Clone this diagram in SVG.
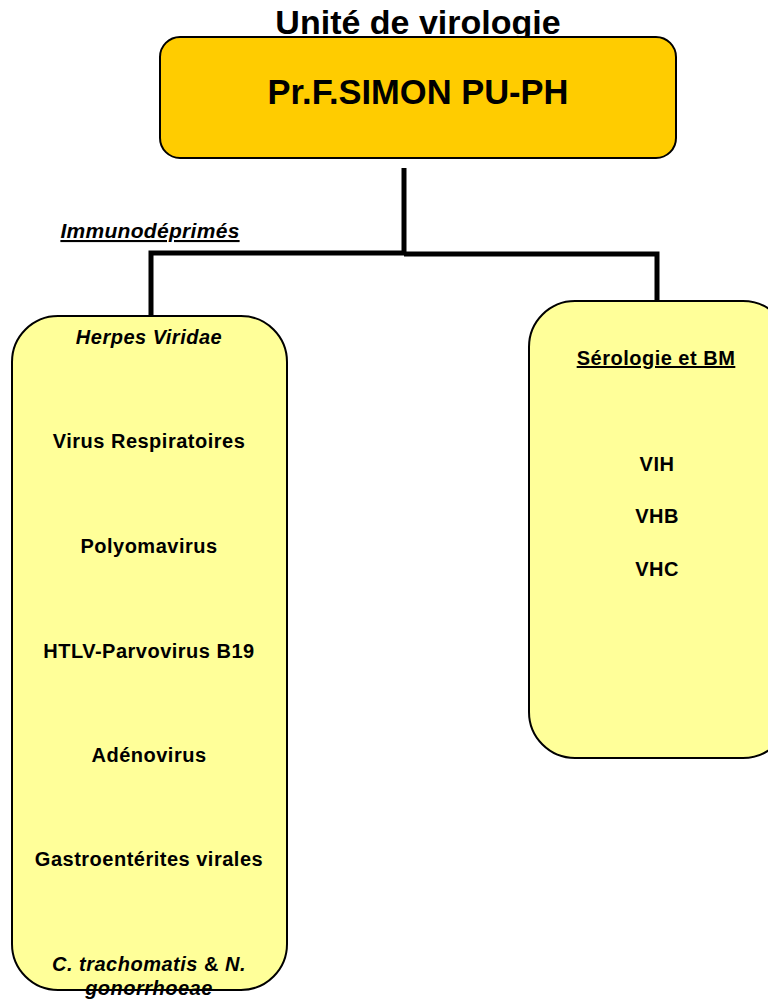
<svg xmlns="http://www.w3.org/2000/svg" width="768" height="1002" viewBox="0 0 768 1002">
<style>
text{font-family:"Liberation Sans",Arial,sans-serif;font-weight:bold;fill:#000;text-anchor:middle}
.box{fill:#FFFF99;stroke:#000;stroke-width:2}
.top{fill:#FFCC00;stroke:#000;stroke-width:2}
.item{font-size:20px;letter-spacing:0.5px}
.it{font-style:italic}
.u{text-decoration:underline}
.conn{fill:none;stroke:#000;stroke-width:5}
</style>
<rect width="768" height="1002" fill="#fff"/>
<text x="418" y="34" font-size="34">Unité de virologie</text>
<g id="connectors">
<path class="conn" d="M404,168 V253"/>
<path class="conn" d="M151,316 V253 H404"/>
<path class="conn" d="M404,254 H657 V301"/>
</g>
<g id="node-top">
<rect class="top" x="160" y="37" width="516" height="121" rx="20"/>
<text x="418" y="104" font-size="34.5">Pr.F.SIMON PU-PH</text>
</g>
<text x="150" y="238" font-size="21" letter-spacing="0.3" class="it u">Immunodéprimés</text>
<g id="node-left">
<rect class="box" x="12" y="316" width="275" height="674" rx="46"/>
<text x="149" y="344" class="item it">Herpes Viridae</text>
<text x="149" y="448" class="item">Virus Respiratoires</text>
<text x="149" y="553" class="item">Polyomavirus</text>
<text x="149" y="658" class="item">HTLV-Parvovirus B19</text>
<text x="149" y="762" class="item">Adénovirus</text>
<text x="149" y="866" class="item">Gastroentérites virales</text>
<text x="149" y="971" class="item"><tspan class="it">C. trachomatis</tspan> &amp; <tspan class="it">N.</tspan></text>
<text x="149" y="995" class="item it">gonorrhoeae</text>
</g>
<g id="node-right">
<rect class="box" x="529" y="301" width="260" height="457" rx="46"/>
<text x="656" y="365" class="item u">Sérologie et BM</text>
<text x="657" y="471" class="item">VIH</text>
<text x="657" y="523" class="item">VHB</text>
<text x="657" y="576" class="item">VHC</text>
</g>
</svg>
